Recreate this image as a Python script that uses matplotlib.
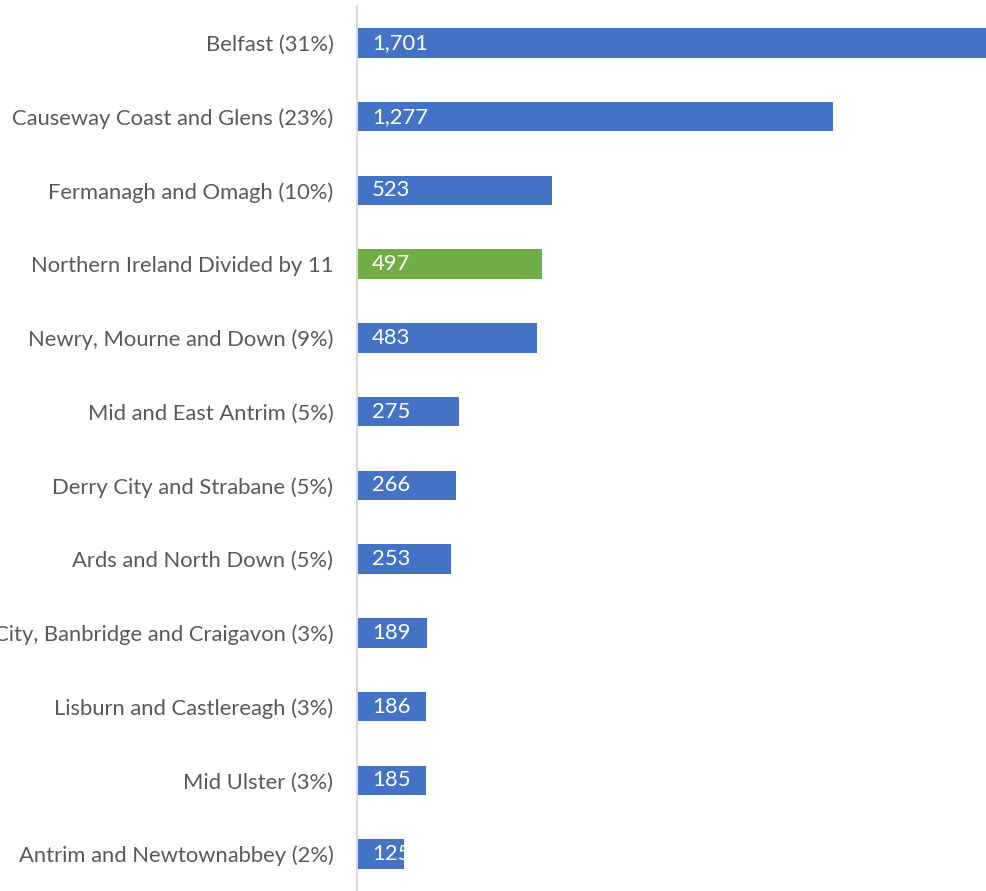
import matplotlib
matplotlib.use("Agg")
import matplotlib.pyplot as plt

categories = [
    "Belfast (31%)",
    "Causeway Coast and Glens (23%)",
    "Fermanagh and Omagh (10%)",
    "Northern Ireland Divided by 11",
    "Newry, Mourne and Down (9%)",
    "Mid and East Antrim (5%)",
    "Derry City and Strabane (5%)",
    "Ards and North Down (5%)",
    "Armagh City, Banbridge and Craigavon (3%)",
    "Lisburn and Castlereagh (3%)",
    "Mid Ulster (3%)",
    "Antrim and Newtownabbey (2%)",
]
values = [1701, 1277, 523, 497, 483, 275, 266, 253, 189, 186, 185, 125]
highlight = "Northern Ireland Divided by 11"

BLUE = "#4472C4"
GREEN = "#70AD47"
FONT = "Lato"
FS = 15.8

fig = plt.figure(figsize=(9.86, 8.91), dpi=100)
ax = fig.add_axes([357 / 986, 0.0, 1 - 357 / 986, 1 - 6 / 891])

colors = [GREEN if c == highlight else BLUE for c in categories]
ypos = list(range(len(categories)))
bars = ax.barh(ypos, values, height=0.4, color=colors)

ax.set_xlim(0, 1688)
ax.set_ylim(len(categories) - 0.5, -0.5)

for bar, v in zip(bars, values):
    t = ax.text(bar.get_x() + 15 / 0.3727, bar.get_y() + bar.get_height() / 2,
                f"{v:,}", color="white", fontsize=FS, family=FONT,
                va="center", ha="left")
    t.set_clip_path(bar)

ax.set_yticks(ypos)
ax.set_yticklabels(categories, fontsize=FS, family=FONT, color="#595959")
ax.tick_params(axis="y", length=0, pad=17)
ax.set_xticks([])
for s in ["top", "right", "bottom"]:
    ax.spines[s].set_visible(False)
ax.spines["left"].set_color("#D9D9D9")
ax.spines["left"].set_linewidth(1.5)

fig.savefig("out.png", dpi=100)
